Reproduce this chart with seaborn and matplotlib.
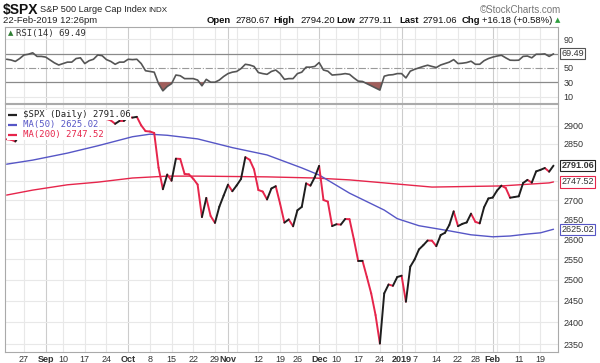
import matplotlib
matplotlib.use("Agg")
import matplotlib.pyplot as plt
from matplotlib.ticker import NullLocator
import seaborn as sns
import pandas as pd
import numpy as np

# ---- data ----
holidays = ["2018-09-03", "2018-11-22", "2018-12-05", "2018-12-25",
            "2019-01-01", "2019-01-21", "2019-02-18"]
trade_days = pd.bdate_range("2018-08-21", "2019-02-22")
trade_days = trade_days[~trade_days.isin(pd.to_datetime(holidays))]

close = [2862.96, 2861.82, 2856.98, 2874.69, 2896.74, 2897.52, 2914.04, 2901.13, 2901.52,
         2896.72, 2888.60, 2878.05, 2871.68, 2877.13, 2887.89, 2888.92, 2904.18, 2904.98,
         2888.80, 2904.31, 2907.95, 2930.75, 2929.67, 2919.37, 2915.56, 2905.97, 2914.00,
         2913.98,
         2924.59, 2923.43, 2925.51, 2901.61, 2885.57, 2884.43, 2880.34, 2785.68, 2728.37,
         2767.13, 2750.79, 2809.92, 2809.21, 2768.78, 2767.78, 2755.88, 2740.69, 2656.10,
         2705.57, 2658.69, 2641.25, 2682.63, 2711.74,
         2740.37, 2723.06, 2738.31, 2755.45, 2813.89, 2806.83, 2781.01, 2726.22, 2722.18,
         2701.58, 2730.20, 2736.27, 2690.73, 2641.89, 2649.93, 2632.56, 2673.45, 2682.17,
         2743.79, 2737.80, 2760.17,
         2790.37, 2700.06, 2695.95, 2633.08, 2637.72, 2636.78, 2651.07, 2650.54, 2599.95,
         2545.94, 2546.16, 2506.96, 2467.42, 2416.62, 2351.10, 2467.70, 2488.83, 2485.74,
         2506.85,
         2510.03, 2447.89, 2531.94, 2549.69, 2574.41, 2584.96, 2596.64, 2596.26, 2582.61,
         2610.30, 2616.10, 2635.96, 2670.71, 2632.90, 2638.70, 2642.33, 2664.76, 2643.85,
         2640.00, 2681.05, 2704.10,
         2706.53, 2724.87, 2737.70, 2731.61, 2706.05, 2707.88, 2709.80, 2744.73, 2753.03,
         2745.73, 2775.60, 2779.76, 2784.70, 2774.88, 2791.06]

rsi = [62, 61, 59, 63, 68, 69, 71, 66, 66,
       65, 61, 57, 54, 56, 58, 58, 63, 64, 56, 60, 62, 68, 67, 61.5, 59, 55, 58, 58,
       62, 61.5, 62, 56, 46, 45, 44, 28, 18, 24, 28, 40, 39, 35, 35, 35, 33, 25, 34, 30,
       30, 33, 38,
       42, 44, 45, 49, 55, 54, 52, 43.5, 42, 41, 45, 47, 42, 34, 35, 35, 42, 44, 51, 51, 52,
       57.4, 47, 45.4, 40, 40.5, 41, 42, 41, 36, 31.5, 31, 28, 25, 22, 19, 38.4, 40, 40.5, 42,
       42, 36, 45.4, 48, 50, 52, 53.7, 52, 50.5, 54, 56, 58, 61.5, 56, 56.5, 57.4, 59.3, 55,
       55, 60, 63,
       65, 66.5, 67.6, 64, 60.7, 60.5, 60.7, 66, 66.5, 64, 69, 69, 69.5, 66, 69.49]

ma50_dates = ["2018-08-21", "2018-08-29", "2018-09-11", "2018-09-20", "2018-10-02",
              "2018-10-08", "2018-10-12", "2018-10-23", "2018-11-02", "2018-11-14",
              "2018-11-27", "2018-12-03", "2018-12-13", "2018-12-26", "2018-12-31",
              "2019-01-08", "2019-01-17", "2019-01-25", "2019-02-01", "2019-02-07",
              "2019-02-13", "2019-02-19", "2019-02-22"]
ma50 = [2795, 2806, 2825, 2845, 2870, 2877, 2874, 2864, 2840, 2820, 2785, 2766, 2718,
        2674, 2652, 2634, 2621, 2611, 2606, 2608, 2613, 2616, 2625.02]

ma200_dates = ["2018-08-21", "2018-08-29", "2018-09-11", "2018-09-20", "2018-10-02",
               "2018-10-12", "2018-10-23", "2018-11-14", "2018-11-30", "2018-12-13",
               "2018-12-31", "2019-01-11", "2019-02-05", "2019-02-21", "2019-02-22"]
ma200 = [2713, 2726, 2740, 2747, 2758, 2763, 2763, 2761, 2758, 2753, 2742, 2734, 2737,
         2745, 2747.52]

tick_dates = ["2018-08-27", "2018-09-04", "2018-09-10", "2018-09-17", "2018-09-24",
              "2018-10-01", "2018-10-08", "2018-10-15", "2018-10-22", "2018-10-29",
              "2018-11-01", "2018-11-05", "2018-11-12", "2018-11-19", "2018-11-26",
              "2018-12-03", "2018-12-10", "2018-12-17", "2018-12-24", "2018-12-31",
              "2019-01-02", "2019-01-07", "2019-01-14", "2019-01-22", "2019-01-28",
              "2019-02-01", "2019-02-04", "2019-02-11", "2019-02-19"]
tick_labels = ["27", "Sep", "10", "17", "24", "Oct", "8", "15", "22", "29", "Nov", "",
               "12", "19", "26", "Dec", "10", "17", "24", "", "2019", "7", "14", "22",
               "28", "Feb", "", "11", "19"]
month_labels = ["Sep", "Oct", "Nov", "Dec", "2019", "Feb"]
month_starts = ["2018-09-04", "2018-10-01", "2018-11-01", "2018-12-03",
                "2019-01-02", "2019-02-01"]

# 2800 and 2750 sit under the last-value boxes, so they are not printed
price_ticks = [2350, 2400, 2450, 2500, 2550, 2600, 2650, 2700, 2850, 2900]
rsi_ticks = [10, 30, 50, 90]

# ---- setup ----
sns.set_style("white")
plt.rcParams["font.family"] = ["Liberation Sans", "DejaVu Sans"]

pos = {d: i for i, d in enumerate(trade_days)}
xs = np.arange(len(trade_days))
px = lambda ds: [pos[pd.Timestamp(d)] for d in ds]

RED = "#e6254b"
BLUE = "#5656c6"
GRID = "#e8e8e8"
MGRID = "#cccccc"

fig = plt.figure(figsize=(6, 3.63), dpi=100)
ax_r = fig.add_axes([5 / 600, 1 - 103 / 363, 553 / 600, 76 / 363])
ax_p = fig.add_axes([5 / 600, 1 - 352 / 363, 553 / 600, 248 / 363])
xlim = (-0.38, 127.04)

for ax in (ax_r, ax_p):
    for d in tick_dates:
        ax.axvline(pos[pd.Timestamp(d)], color=MGRID if d in month_starts else GRID,
                   lw=0.8, zorder=0)
    for s in ax.spines.values():
        s.set_color("#aaaaaa")
        s.set_linewidth(0.8)
    ax.set_xlim(*xlim)

# ---- RSI panel ----
rsi_arr = np.array(rsi)
for lvl in (10, 90):
    ax_r.axhline(lvl, color=GRID, lw=0.8, zorder=0)
ax_r.axhline(70, color="#8a8a8a", lw=0.9, zorder=1)
ax_r.axhline(30, color="#8a8a8a", lw=0.9, zorder=1)
ax_r.axhline(50, color="#9a9a9a", lw=0.8, ls="-.", zorder=1)
ax_r.fill_between(xs, rsi_arr, 30, where=rsi_arr < 30, interpolate=True,
                  color="#a15f5c", lw=0, zorder=2)
sns.lineplot(x=xs, y=rsi_arr, ax=ax_r, color="#555555", lw=1.2, zorder=3)
ax_r.set_ylim(1, 107)
ax_r.yaxis.tick_right()
ax_r.set_yticks(rsi_ticks)
ax_r.set_yticklabels([str(t) for t in rsi_ticks])
ax_r.tick_params(axis="y", length=0, pad=4, labelsize=6.5, labelcolor="#333333")
ax_r.set_xticks([])
ax_r.set_xlabel("")
ax_r.text(1.006, 69.49, "69.49", transform=ax_r.get_yaxis_transform(), fontsize=6.5,
          va="center", ha="left", color="#333333", zorder=10, clip_on=False,
          bbox=dict(boxstyle="square,pad=0.12", fc="white", ec="#555555", lw=0.8))
ax_r.text(0.006, 0.92, "▲", transform=ax_r.transAxes, fontsize=5, color="#2e7d32",
          va="center", ha="left", family="DejaVu Sans")
ax_r.text(0.02, 0.92, "RSI(14) 69.49", transform=ax_r.transAxes, fontsize=6.5,
          color="#333333", va="center", ha="left", family="DejaVu Sans Mono")

# ---- price panel ----
for lvl in range(2350, 3000, 50):
    ax_p.axhline(lvl, color=GRID, lw=0.8, zorder=0)

sns.lineplot(x=px(ma200_dates), y=ma200, ax=ax_p, color=RED, lw=1.0, zorder=2)
sns.lineplot(x=px(ma50_dates), y=ma50, ax=ax_p, color=BLUE, lw=1.0, zorder=2)

rows = []
for i in range(1, len(close)):
    d = "up" if close[i] >= close[i - 1] else "down"
    rows.append((i, xs[i - 1], close[i - 1], d))
    rows.append((i, xs[i], close[i], d))
seg = pd.DataFrame(rows, columns=["seg", "x", "close", "dir"])
sns.lineplot(data=seg, x="x", y="close", hue="dir", units="seg", estimator=None,
             palette={"up": "#1e1e1e", "down": RED}, lw=1.4, legend=False, ax=ax_p,
             sort=False, zorder=3, solid_capstyle="round")

ax_p.set_yscale("log")
ax_p.set_ylim(2332, 2962)
ax_p.yaxis.set_minor_locator(NullLocator())
ax_p.yaxis.tick_right()
ax_p.set_yticks(price_ticks)
ax_p.set_yticklabels([str(t) for t in price_ticks])
ax_p.tick_params(axis="y", length=0, pad=4, labelsize=6.5, labelcolor="#333333")
ax_p.set_xticks(px(tick_dates))
ax_p.set_xticklabels(tick_labels)
ax_p.tick_params(axis="x", length=0, pad=2, labelsize=6.5, labelcolor="#333333")
for lab in ax_p.get_xticklabels():
    if lab.get_text() in month_labels:
        lab.set_fontweight("bold")
ax_p.set_xlabel("")
ax_p.set_ylabel("")

for val, txt, ec, fw in [(2791.06, "2791.06", "#222222", "bold"),
                         (2747.52, "2747.52", RED, "normal"),
                         (2625.02, "2625.02", BLUE, "normal")]:
    ax_p.text(1.006, val, txt, transform=ax_p.get_yaxis_transform(), fontsize=6.5,
              va="center", ha="left", color="#333333", fontweight=fw, zorder=10,
              clip_on=False,
              bbox=dict(boxstyle="square,pad=0.12", fc="white", ec=ec, lw=0.8))

legend_rows = [("$SPX (Daily) 2791.06", "#222222", 0.956),
               ("MA(50) 2625.02", BLUE, 0.916),
               ("MA(200) 2747.52", RED, 0.876)]
for txt, col, yy in legend_rows:
    ax_p.text(0.004, yy, "   " + txt, transform=ax_p.transAxes, fontsize=6.4, color=col,
              va="center", ha="left", family="DejaVu Sans Mono", zorder=8,
              bbox=dict(boxstyle="square,pad=0.05", fc="white", ec="none"))
    ax_p.plot([0.006, 0.021], [yy, yy], transform=ax_p.transAxes, color=col, lw=1.6,
              zorder=9, solid_capstyle="butt")

# ---- header ----
fy1 = 1 - 10 / 363
fy2 = 1 - 20.5 / 363
fig.text(3 / 600, fy1, "$SPX", fontsize=10, fontweight="bold", va="center", color="#111111")
fig.text(40 / 600, fy1, "S&P 500 Large Cap Index", fontsize=6.6, va="center", color="#222222")
fig.text(148 / 600, fy1, "INDX", fontsize=5.8, va="center", color="#222222")
fig.text(480 / 600, fy1, "©StockCharts.com", fontsize=7, va="center", color="#777777")
fig.text(3 / 600, fy2, "22-Feb-2019 12:26pm", fontsize=6.8, va="center", color="#222222")
for x, t, bold in [(207, "Open", True), (235, "2780.67", False), (273, "High", True),
                   (300, "2794.20", False), (336, "Low", True), (358, "2779.11", False),
                   (399, "Last", True), (422, "2791.06", False), (462, "Chg", True),
                   (482, "+16.18 (+0.58%)", False)]:
    fig.text(x / 600, fy2, t, fontsize=6.8, va="center", color="#111111",
             fontweight="bold" if bold else "normal")
fig.text(555 / 600, fy2, "▲", fontsize=5, va="center", color="#2e9e3e", family="DejaVu Sans")

fig.savefig("out.png", dpi=100)
plt.close(fig)
